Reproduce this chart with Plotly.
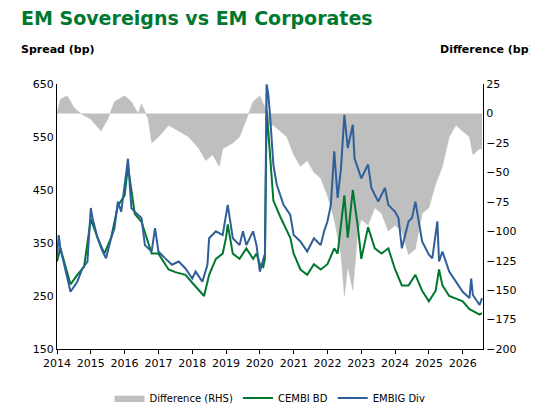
import plotly.graph_objects as go

# EMBIG Div (blue), decimal years
embig_x = [2014.0, 2014.05, 2014.1, 2014.3, 2014.4, 2014.6, 2014.75, 2014.9, 2015.0, 2015.05, 2015.2, 2015.35,
           2015.45, 2015.6, 2015.7, 2015.8, 2015.9, 2016.1, 2016.2, 2016.3, 2016.5, 2016.6, 2016.8, 2016.9,
           2017.0, 2017.2, 2017.4, 2017.6, 2017.8, 2018.0, 2018.1, 2018.3, 2018.45, 2018.5, 2018.7, 2018.9,
           2019.0, 2019.05, 2019.2, 2019.4, 2019.5, 2019.6, 2019.8, 2019.9, 2020.0, 2020.1, 2020.15, 2020.2,
           2020.25, 2020.3, 2020.4, 2020.5, 2020.7, 2020.9, 2021.0, 2021.2, 2021.4, 2021.6, 2021.8, 2021.9,
           2022.0, 2022.1, 2022.2, 2022.3, 2022.4, 2022.5, 2022.6, 2022.75, 2022.8, 2023.0, 2023.2, 2023.3,
           2023.5, 2023.7, 2023.8, 2024.0, 2024.1, 2024.2, 2024.4, 2024.5, 2024.6, 2024.8, 2025.0, 2025.1,
           2025.25, 2025.3, 2025.4, 2025.6, 2025.8, 2026.0, 2026.2, 2026.25, 2026.3, 2026.5, 2026.57]
embig = [321, 365, 340, 283, 258, 277, 302, 315, 416, 397, 359, 334,
         321, 359, 378, 428, 409, 509, 416, 409, 397, 346, 334, 378,
         334, 321, 309, 315, 302, 283, 296, 277, 309, 359, 372, 365,
         403, 422, 359, 346, 372, 346, 372, 346, 296, 321, 330, 649,
         630, 592, 498, 460, 422, 403, 365, 353, 334, 359, 346, 372,
         391, 422, 523, 435, 491, 592, 529, 573, 510, 472, 498, 454,
         428, 454, 422, 409, 397, 340, 391, 397, 428, 353, 328, 321,
         391, 315, 334, 296, 277, 258, 246, 283, 252, 233, 246]

# CEMBI BD (green)
cembi_x = [2014.0, 2014.1, 2014.3, 2014.4, 2014.6, 2014.8, 2015.0, 2015.2, 2015.4, 2015.6, 2015.8, 2016.0,
           2016.1, 2016.3, 2016.5, 2016.8, 2017.0, 2017.3, 2017.5, 2017.8, 2018.0, 2018.35, 2018.5, 2018.7,
           2018.9, 2019.0, 2019.05, 2019.2, 2019.4, 2019.6, 2019.8, 2019.9, 2020.0, 2020.1, 2020.15, 2020.2,
           2020.25, 2020.4, 2020.6, 2020.9, 2021.0, 2021.2, 2021.4, 2021.6, 2021.8, 2022.0, 2022.2, 2022.3,
           2022.5, 2022.6, 2022.75, 2022.9, 2023.0, 2023.2, 2023.4, 2023.6, 2023.8, 2024.0, 2024.2, 2024.4,
           2024.6, 2024.8, 2025.0, 2025.2, 2025.3, 2025.4, 2025.6, 2025.8, 2026.0, 2026.2, 2026.5, 2026.57]
cembi = [315, 340, 295, 272, 290, 305, 395, 360, 330, 360, 420, 440,
         495, 405, 390, 330, 330, 300, 295, 290, 275, 250, 290, 320,
         330, 360, 385, 330, 320, 340, 320, 330, 310, 305, 320, 600,
         560, 430, 400, 360, 330, 300, 290, 310, 300, 310, 340, 330,
         440, 360, 450, 380, 320, 380, 340, 330, 340, 300, 270, 270,
         290, 260, 240, 260, 300, 270, 250, 245, 240, 225, 215, 218]

# Difference (RHS)
diff_x = [2014.0, 2014.1, 2014.3, 2014.5, 2014.7, 2015.0, 2015.3, 2015.5, 2015.7, 2016.0, 2016.2, 2016.4,
          2016.5, 2016.7, 2016.8, 2017.0, 2017.3, 2017.6, 2017.9, 2018.2, 2018.4, 2018.6, 2018.8, 2018.9,
          2019.2, 2019.4, 2019.6, 2019.8, 2020.0, 2020.15, 2020.2, 2020.25, 2020.4, 2020.6, 2020.8, 2021.0,
          2021.2, 2021.4, 2021.6, 2021.8, 2022.0, 2022.2, 2022.4, 2022.5, 2022.6, 2022.75, 2022.9, 2023.0,
          2023.2, 2023.4, 2023.6, 2023.8, 2024.0, 2024.2, 2024.4, 2024.6, 2024.8, 2025.0, 2025.2, 2025.4,
          2025.6, 2025.8, 2026.0, 2026.2, 2026.3, 2026.5, 2026.57]
diff = [0, 12, 15, 5, 0, -5, -15, -5, 10, 15, 10, 0,
        8, -5, -25, -20, -10, -15, -20, -30, -40, -35, -45, -30,
        -25, -20, -5, 10, 15, 5, 25, -10, -10, -15, -20, -35,
        -45, -40, -50, -55, -70, -90, -120, -155, -130, -150, -100, -90,
        -95, -80, -85, -100, -95, -100, -120, -115, -85, -80, -60, -45,
        -20, -10, -15, -20, -35, -30, -30]

years = list(range(2014, 2027))

fig = go.Figure()
# difference on the base axis so the lines (overlay axis) draw on top of it
fig.add_trace(go.Scatter(x=diff_x, y=diff, name="Difference (RHS)", mode="lines",
                         line=dict(color="#bfbfbf", width=0.5), fill="tozeroy",
                         fillcolor="#bfbfbf", yaxis="y"))
fig.add_trace(go.Scatter(x=cembi_x, y=cembi, name="CEMBI BD", mode="lines",
                         line=dict(color="#00782f", width=2), yaxis="y2"))
fig.add_trace(go.Scatter(x=embig_x, y=embig, name="EMBIG Div", mode="lines",
                         line=dict(color="#2f5f9a", width=2), yaxis="y2"))

fig.update_layout(
    width=538, height=416,
    margin=dict(l=49, r=63, t=76, b=72),
    paper_bgcolor="white", plot_bgcolor="white",
    font=dict(family="DejaVu Sans", size=11, color="black"),
    showlegend=True,
    legend=dict(orientation="h", x=0.5, xanchor="center", y=-0.13, yanchor="top",
                font=dict(size=10), traceorder="normal"),
    xaxis=dict(range=[2014, 2026.6], tickvals=years, ticktext=[str(y) for y in years],
               showgrid=False, showline=True, linecolor="black", ticks="outside",
               ticklen=4, tickcolor="black", zeroline=False),
    yaxis=dict(side="right", range=[-200, 25], tickvals=list(range(-200, 26, 25)),
               showgrid=False, showline=True, linecolor="black", zeroline=False),
    yaxis2=dict(side="left", overlaying="y", range=[150, 650], tickvals=list(range(150, 651, 100)),
                showgrid=False, showline=True, linecolor="black", zeroline=False),
)
fig.add_annotation(text="<b>EM Sovereigns vs EM Corporates</b>", xref="paper", yref="paper",
                   x=-0.09, y=1.25, xanchor="left", yanchor="middle", showarrow=False,
                   font=dict(size=19, color="#00782f"))
fig.add_annotation(text="<b>Spread (bp)</b>", xref="paper", yref="paper",
                   x=-0.09, y=1.13, xanchor="left", yanchor="middle", showarrow=False,
                   font=dict(size=11))
fig.add_annotation(text="<b>Difference (bp)</b>", xref="paper", yref="paper",
                   x=1.125, y=1.13, xanchor="right", yanchor="middle", showarrow=False,
                   font=dict(size=11))

fig.write_html("out.html")
